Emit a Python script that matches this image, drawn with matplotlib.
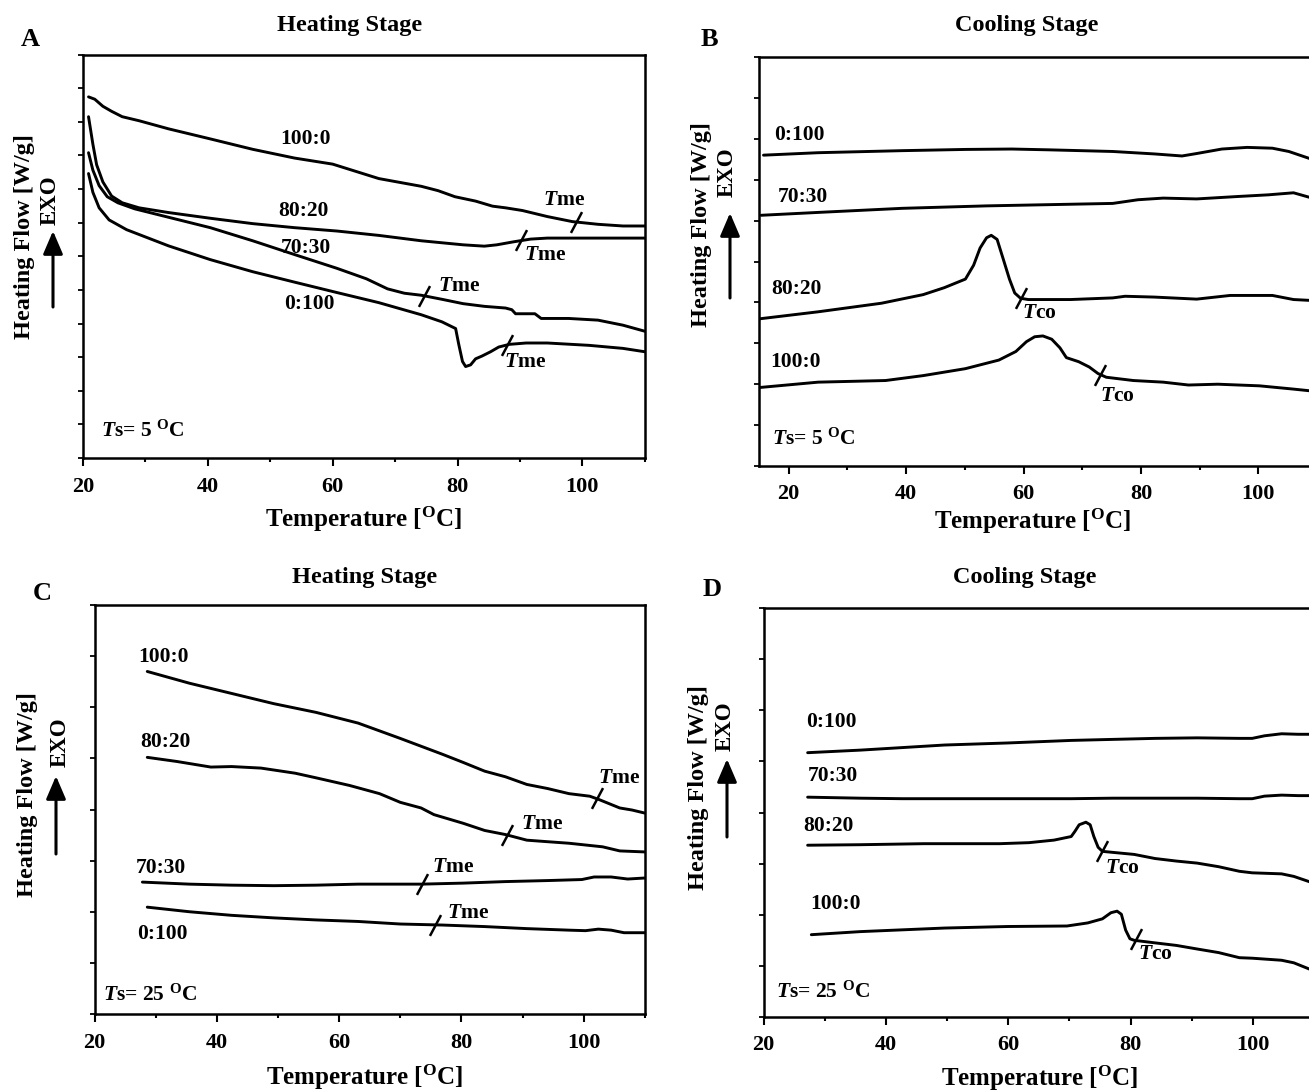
import matplotlib
matplotlib.use('Agg')
import matplotlib.pyplot as plt
from matplotlib.ticker import MultipleLocator
from matplotlib.patches import FancyArrowPatch

plt.rcParams['font.family'] = ['Liberation Serif', 'DejaVu Serif']
plt.rcParams['font.weight'] = 'bold'
plt.rcParams['mathtext.fontset'] = 'custom'
plt.rcParams['mathtext.rm'] = 'Liberation Serif:bold'
plt.rcParams['mathtext.it'] = 'Liberation Serif:italic:bold'
plt.rcParams['mathtext.bf'] = 'Liberation Serif:bold'

# ---------------- DATA ----------------
series_names = ['100:0', '80:20', '70:30', '0:100']

# Panel A: heating, Ts = 5 C
A_100_0_T = [20.9, 21.9, 23.2, 24.6, 26.3, 29.0, 33.7, 40.4, 47.2, 53.9, 60.0, 67.4, 74.2, 76.9, 79.6, 82.9, 85.6, 87.7, 90.4, 94.4, 98.4, 102.5, 106.5, 110.0]
A_100_0_y = [10.74, 10.67, 10.46, 10.31, 10.15, 10.03, 9.79, 9.49, 9.18, 8.92, 8.74, 8.31, 8.08, 7.95, 7.77, 7.64, 7.49, 7.44, 7.36, 7.18, 7.03, 6.95, 6.90, 6.90]
A_80_20_T = [20.9, 21.6, 22.2, 23.2, 24.6, 26.3, 29.0, 33.7, 40.4, 47.2, 53.9, 60.7, 67.4, 74.2, 80.9, 84.3, 86.3, 89.0, 91.7, 94.4, 110.0]
A_80_20_y = [10.15, 9.33, 8.72, 8.21, 7.79, 7.59, 7.44, 7.30, 7.13, 6.97, 6.85, 6.75, 6.62, 6.46, 6.34, 6.30, 6.34, 6.43, 6.51, 6.54, 6.54]
A_70_30_T = [20.9, 21.6, 22.6, 23.9, 25.6, 28.3, 33.7, 40.4, 47.2, 53.9, 60.7, 65.4, 68.8, 71.5, 74.2, 77.5, 80.9, 84.3, 87.7, 88.7, 89.3, 92.4, 93.4, 97.8, 102.5, 106.5, 110.0]
A_70_30_y = [9.08, 8.56, 8.10, 7.77, 7.59, 7.41, 7.16, 6.85, 6.46, 6.05, 5.64, 5.33, 5.03, 4.90, 4.84, 4.72, 4.59, 4.51, 4.46, 4.41, 4.29, 4.29, 4.15, 4.15, 4.10, 3.95, 3.77]
A_0_100_T = [20.9, 21.6, 22.6, 24.2, 27.0, 33.7, 40.4, 47.2, 53.9, 60.7, 67.4, 74.2, 77.5, 79.7, 80.2, 80.8, 81.3, 82.1, 82.9, 83.9, 85.3, 86.6, 88.3, 91.0, 94.4, 101.1, 106.5, 110.0]
A_0_100_y = [8.46, 7.90, 7.44, 7.08, 6.79, 6.31, 5.90, 5.54, 5.23, 4.92, 4.62, 4.26, 4.05, 3.85, 3.38, 2.87, 2.72, 2.77, 2.95, 3.03, 3.16, 3.30, 3.38, 3.42, 3.42, 3.35, 3.26, 3.16]
A_mark_T = [99.0, 90.2, 74.7, 87.9]
A_mark_y = [7.02, 6.47, 4.83, 3.36]

# Panel B: cooling, Ts = 5 C
B_0_100_T = [15.7, 25.0, 39.3, 50.1, 58.0, 64.4, 75.2, 82.3, 87.0, 89.5, 93.8, 98.1, 102.4, 105.2, 108.7, 110.0]
B_0_100_y = [7.60, 7.66, 7.71, 7.74, 7.75, 7.73, 7.69, 7.63, 7.58, 7.64, 7.75, 7.79, 7.77, 7.69, 7.52, 7.45]
B_70_30_T = [15.3, 25.0, 39.3, 53.7, 68.0, 75.2, 79.5, 83.8, 89.5, 96.6, 101.7, 106.0, 108.7, 110.0]
B_70_30_y = [6.13, 6.20, 6.30, 6.36, 6.40, 6.42, 6.51, 6.55, 6.53, 6.59, 6.63, 6.68, 6.57, 6.50]
B_80_20_T = [15.1, 25.0, 35.8, 42.9, 46.5, 50.1, 51.5, 52.6, 53.7, 54.5, 55.5, 56.5, 57.6, 58.5, 59.5, 60.8, 68.0, 75.2, 77.3, 82.3, 89.5, 95.2, 102.4, 106.0, 108.7, 110.0]
B_80_20_y = [3.60, 3.77, 3.98, 4.19, 4.36, 4.57, 4.91, 5.33, 5.58, 5.64, 5.54, 5.08, 4.57, 4.23, 4.10, 4.07, 4.07, 4.11, 4.15, 4.13, 4.08, 4.17, 4.17, 4.07, 4.05, 4.03]
B_100_0_T = [15.1, 25.0, 36.5, 42.9, 50.1, 55.8, 58.7, 60.5, 61.9, 63.3, 64.8, 66.2, 67.3, 69.4, 71.2, 72.7, 74.1, 78.7, 83.8, 88.1, 93.1, 100.2, 106.0, 108.7, 110.0]
B_100_0_y = [1.92, 2.05, 2.09, 2.21, 2.38, 2.59, 2.80, 3.04, 3.16, 3.18, 3.10, 2.89, 2.65, 2.55, 2.42, 2.26, 2.17, 2.09, 2.05, 1.98, 2.00, 1.96, 1.88, 1.84, 1.82]
B_mark_T = [59.5, 73.0]
B_mark_y = [4.10, 2.22]

# Panel C: heating, Ts = 25 C
C_100_0_T = [28.6, 35.5, 42.4, 49.3, 56.2, 63.1, 70.0, 76.9, 80.3, 83.8, 87.2, 90.7, 94.1, 97.6, 101.0, 102.4, 105.9, 107.9, 110.0]
C_100_0_y = [6.70, 6.47, 6.27, 6.07, 5.90, 5.69, 5.39, 5.08, 4.92, 4.75, 4.64, 4.49, 4.41, 4.31, 4.26, 4.20, 4.03, 3.99, 3.93]
C_80_20_T = [28.6, 33.4, 39.0, 42.4, 47.2, 52.8, 56.2, 61.7, 66.6, 70.0, 73.4, 75.5, 80.3, 83.8, 87.2, 90.7, 94.1, 97.6, 103.1, 105.9, 110.0]
C_80_20_y = [5.02, 4.94, 4.83, 4.84, 4.81, 4.71, 4.62, 4.47, 4.31, 4.14, 4.03, 3.90, 3.73, 3.59, 3.51, 3.40, 3.37, 3.34, 3.27, 3.19, 3.17]
C_70_30_T = [27.8, 35.5, 42.4, 49.3, 56.2, 63.1, 71.7, 73.4, 80.3, 87.2, 94.1, 99.7, 101.7, 104.5, 107.2, 110.0]
C_70_30_y = [2.58, 2.54, 2.52, 2.51, 2.52, 2.54, 2.54, 2.54, 2.56, 2.59, 2.61, 2.63, 2.68, 2.68, 2.64, 2.66]
C_0_100_T = [28.6, 35.5, 42.4, 49.3, 56.2, 63.1, 70.0, 76.9, 83.8, 90.7, 97.6, 100.3, 102.4, 104.5, 106.6, 110.0]
C_0_100_y = [2.09, 2.00, 1.93, 1.88, 1.84, 1.81, 1.76, 1.74, 1.71, 1.67, 1.64, 1.63, 1.66, 1.64, 1.59, 1.59]
C_mark_T = [102.1, 87.4, 73.6, 75.7]
C_mark_y = [4.22, 3.51, 2.54, 1.75]

# Panel D: cooling, Ts = 25 C
D_0_100_T = [27.2, 35.8, 42.7, 49.6, 59.9, 70.3, 77.1, 84.0, 90.9, 97.8, 99.9, 101.9, 104.7, 107.4, 110.0]
D_0_100_y = [5.17, 5.22, 5.27, 5.32, 5.36, 5.41, 5.43, 5.45, 5.46, 5.45, 5.45, 5.50, 5.54, 5.53, 5.53]
D_70_30_T = [27.2, 35.8, 42.7, 49.6, 59.9, 70.3, 77.1, 84.0, 90.9, 97.8, 99.9, 101.9, 104.7, 107.4, 110.0]
D_70_30_y = [4.30, 4.28, 4.27, 4.27, 4.27, 4.27, 4.28, 4.28, 4.28, 4.27, 4.27, 4.32, 4.34, 4.33, 4.33]
D_80_20_T = [27.2, 35.8, 46.2, 58.6, 63.4, 67.5, 70.3, 70.9, 71.6, 72.7, 73.4, 74.0, 74.7, 75.4, 77.1, 80.6, 84.0, 87.5, 90.9, 94.4, 97.8, 99.9, 104.7, 106.7, 109.4, 110.0]
D_80_20_y = [3.36, 3.37, 3.39, 3.39, 3.41, 3.46, 3.53, 3.63, 3.76, 3.81, 3.76, 3.53, 3.32, 3.24, 3.22, 3.18, 3.10, 3.05, 3.01, 2.94, 2.85, 2.82, 2.80, 2.75, 2.64, 2.62]
D_100_0_T = [27.8, 35.8, 49.6, 59.9, 69.6, 73.0, 75.4, 76.8, 77.8, 78.5, 79.2, 79.9, 80.6, 84.0, 87.5, 90.9, 94.4, 97.8, 99.9, 104.7, 106.7, 109.4, 110.0]
D_100_0_y = [1.61, 1.67, 1.74, 1.77, 1.78, 1.84, 1.92, 2.04, 2.07, 2.01, 1.70, 1.53, 1.50, 1.45, 1.40, 1.33, 1.26, 1.16, 1.15, 1.11, 1.06, 0.93, 0.91]
D_mark_T = [75.3, 80.9]
D_mark_y = [3.25, 1.52]

x_ticks = [20, 40, 60, 80, 100]

# ---------------- LAYOUT ----------------
W, H = 1309, 1092
fig = plt.figure(figsize=(W / 100, H / 100), dpi=100)

def rect(l, r, t, b):
    return [l / W, 1 - b / H, (r - l) / W, (b - t) / H]

def fx(x):
    return x / W

def fy(y):
    return 1 - y / H

LW = 2.1
FS_TICK = 16
FS_LAB = 15.5

panels = [
    dict(rect=rect(82.9, 644.8, 54.5, 458), xlim=(20, 110), ny=12, title='Heating Stage',
         title_xy=(350, 26), letter='A', letter_xy=(30, 40), xlabel_xy=(364, 519),
         yl_xy=(25, 237), exo_xy=(50, 200), arrow=(53, 307, 231), pad=8,
         curves=[(A_100_0_T, A_100_0_y), (A_80_20_T, A_80_20_y), (A_70_30_T, A_70_30_y), (A_0_100_T, A_0_100_y)],
         marks=(A_mark_T, A_mark_y),
         labels=[(55.6, 9.49, 'center'), (55.4, 7.36, 'center'), (55.75, 6.26, 'center'), (56.3, 4.58, 'center')],
         mlabels=[(93.7, 7.66), (90.7, 6.05), (76.9, 5.13), (87.5, 2.85)], mtext='me',
         ts=(22.9, 0.8, 5)),
    dict(rect=rect(759.4, 1317, 57, 466), xlim=(15, 110), ny=10, title='Cooling Stage',
         title_xy=(1027, 25), letter='B', letter_xy=(709, 40), xlabel_xy=(1033, 521),
         yl_xy=(702, 225), exo_xy=(727, 172), arrow=(730, 298, 213), pad=7.5,
         curves=[(B_100_0_T, B_100_0_y), (B_80_20_T, B_80_20_y), (B_70_30_T, B_70_30_y), (B_0_100_T, B_0_100_y)],
         marks=(B_mark_T, B_mark_y),
         labels=[(16.8, 2.55, 'left'), (17.1, 4.32, 'left'), (18.2, 6.57, 'left'), (17.5, 8.09, 'left')],
         mlabels=[(59.8, 3.73), (73.0, 1.71)], mtext='co',
         ts=(17.1, 0.66, 5)),
    dict(rect=rect(94.7, 644.8, 605, 1014), xlim=(20, 110), ny=8, title='Heating Stage',
         title_xy=(365, 578), letter='C', letter_xy=(42, 593), xlabel_xy=(365, 1077),
         yl_xy=(28, 795), exo_xy=(60, 742), arrow=(56, 854, 776), pad=8,
         curves=[(C_100_0_T, C_100_0_y), (C_80_20_T, C_80_20_y), (C_70_30_T, C_70_30_y), (C_0_100_T, C_0_100_y)],
         marks=(C_mark_T, C_mark_y),
         labels=[(27.1, 6.98, 'left'), (27.4, 5.32, 'left'), (26.7, 2.85, 'left'), (26.9, 1.56, 'left')],
         mlabels=[(102.4, 4.61), (89.7, 3.72), (75.2, 2.88), (77.6, 1.97)], mtext='me',
         ts=(21.4, 0.37, 25)),
    dict(rect=rect(763.6, 1314, 608, 1017), xlim=(20, 110), ny=8, title='Cooling Stage',
         title_xy=(1025, 577), letter='D', letter_xy=(712, 589), xlabel_xy=(1040, 1078),
         yl_xy=(698, 788), exo_xy=(725, 726), arrow=(727, 837, 759), pad=7,
         curves=[(D_100_0_T, D_100_0_y), (D_80_20_T, D_80_20_y), (D_70_30_T, D_70_30_y), (D_0_100_T, D_0_100_y)],
         marks=(D_mark_T, D_mark_y),
         labels=[(27.6, 2.21, 'left'), (26.5, 3.74, 'left'), (27.2, 4.71, 'left'), (26.9, 5.77, 'left')],
         mlabels=[(75.8, 2.92), (81.3, 1.23)], mtext='co',
         ts=(22.1, 0.49, 25)),
]

for p in panels:
    ax = fig.add_axes(p['rect'])
    for (T, y) in p['curves']:
        ax.plot(T, y, color='black', lw=LW, solid_joinstyle='round', solid_capstyle='round')
    mT, my = p['marks']
    ax.plot(mT, my, linestyle='none', marker=(2, 0, -28), markersize=17,
            markeredgewidth=1.8, color='black')
    for name, (lx, ly, ha) in zip(series_names, p['labels']):
        ax.text(lx, ly, name, ha=ha, va='center', fontsize=FS_LAB, fontweight='bold')
    for (lx, ly) in p['mlabels']:
        ax.text(lx, ly, r'$\mathit{T}$' + p['mtext'], ha='left', va='center', fontsize=FS_LAB)
    tx, ty, tv = p['ts']
    ax.text(tx, ty, r'$\mathit{T}$s= %d $^{\mathrm{O}}$C' % tv, ha='left', va='center', fontsize=FS_LAB)

    ax.set_xlim(*p['xlim'])
    ax.set_ylim(0, p['ny'])
    ax.set_xticks(x_ticks)
    ax.xaxis.set_minor_locator(MultipleLocator(10))
    ax.yaxis.set_major_locator(MultipleLocator(1))
    ax.set_yticklabels([])
    ax.tick_params(axis='x', which='major', direction='out', length=5.8, width=1.5,
                   labelsize=FS_TICK, pad=p['pad'])
    ax.tick_params(axis='x', which='minor', direction='out', length=3.2, width=1.5)
    ax.tick_params(axis='y', which='major', direction='out', length=3.5, width=1.3, left=True)
    for lab in ax.get_xticklabels():
        lab.set_fontweight('bold')
    for s in ax.spines.values():
        s.set_linewidth(1.8)

    fig.text(fx(p['title_xy'][0]), fy(p['title_xy'][1]), p['title'], ha='center', va='center',
             fontsize=17.5, fontweight='bold')
    fig.text(fx(p['letter_xy'][0]), fy(p['letter_xy'][1]), p['letter'], ha='center', va='center',
             fontsize=19, fontweight='bold')
    fig.text(fx(p['xlabel_xy'][0]), fy(p['xlabel_xy'][1]), r'Temperature [$^{\mathrm{O}}$C]',
             ha='center', va='center', fontsize=18, fontweight='bold')
    fig.text(fx(p['yl_xy'][0]), fy(p['yl_xy'][1]), 'Heating Flow [W/g]', ha='center', va='center',
             rotation=90, fontsize=17.5, fontweight='bold')
    fig.text(fx(p['exo_xy'][0]), fy(p['exo_xy'][1]), 'EXO', ha='center', va='center',
             rotation=90, fontsize=16.5, fontweight='bold')
    axx, ay0, ay1 = p['arrow']
    arr = FancyArrowPatch((fx(axx), fy(ay0)), (fx(axx), fy(ay1)), transform=fig.transFigure,
                          arrowstyle='-|>,head_length=0.7,head_width=0.3', mutation_scale=20,
                          lw=2.2, color='black', shrinkA=0, shrinkB=0)
    fig.add_artist(arr)

fig.savefig('out.png', dpi=100)
